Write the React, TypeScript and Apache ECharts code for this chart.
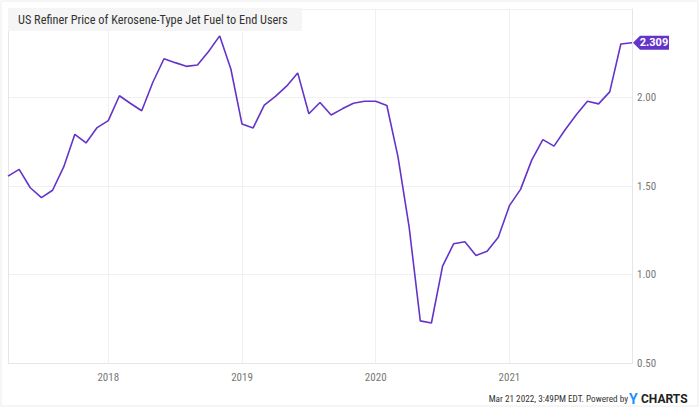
import React, { useEffect, useRef } from "react";
import * as echarts from "echarts";

const months: string[] = [
  "2017-04", "2017-05", "2017-06", "2017-07", "2017-08", "2017-09", "2017-10", "2017-11", "2017-12",
  "2018-01", "2018-02", "2018-03", "2018-04", "2018-05", "2018-06", "2018-07", "2018-08", "2018-09", "2018-10", "2018-11", "2018-12",
  "2019-01", "2019-02", "2019-03", "2019-04", "2019-05", "2019-06", "2019-07", "2019-08", "2019-09", "2019-10", "2019-11", "2019-12",
  "2020-01", "2020-02", "2020-03", "2020-04", "2020-05", "2020-06", "2020-07", "2020-08", "2020-09", "2020-10", "2020-11", "2020-12",
  "2021-01", "2021-02", "2021-03", "2021-04", "2021-05", "2021-06", "2021-07", "2021-08", "2021-09", "2021-10", "2021-11", "2021-12",
];

const prices: number[] = [
  1.556, 1.594, 1.49, 1.434, 1.476, 1.608, 1.792, 1.743, 1.83,
  1.869, 2.01, 1.966, 1.925, 2.086, 2.219, 2.197, 2.176, 2.184, 2.26, 2.348, 2.161,
  1.85, 1.828, 1.957, 2.006, 2.064, 2.139, 1.908, 1.972, 1.901, 1.936, 1.968, 1.979,
  1.979, 1.955, 1.665, 1.268, 0.738, 0.726, 1.047, 1.174, 1.185, 1.108, 1.131, 1.211,
  1.389, 1.481, 1.646, 1.762, 1.725, 1.818, 1.903, 1.979, 1.964, 2.032, 2.302, 2.309,
];

const yTicks = { min: 0.5, max: 2.5, interval: 0.5 };
const lastLabel = "2.309";
const titleText = "US Refiner Price of Kerosene-Type Jet Fuel to End Users";
const footerText = "Mar 21 2022, 3:49PM EDT. Powered by";

const COND = "'Roboto Condensed', 'Liberation Sans Narrow', 'DejaVu Sans Condensed', Roboto, sans-serif";
const PURPLE = "#6434c9";

export default function App() {
  const ref = useRef<HTMLDivElement>(null);
  useEffect(() => {
    if (!ref.current) return;
    const chart = echarts.init(ref.current, undefined, { renderer: "svg" });
    const isJan = (i: number) => months[i].endsWith("-01");
    const last = months.length - 1;
    chart.setOption({
      animation: false,
      backgroundColor: "#ffffff",
      grid: { left: 8, right: 68, top: 9, bottom: 45 },
      xAxis: {
        type: "category",
        data: months,
        boundaryGap: false,
        axisLine: { show: true, lineStyle: { color: "#e6e6e6" } },
        axisTick: { show: false },
        axisLabel: {
          interval: (i: number) => isJan(i),
          formatter: (v: string) => v.slice(0, 4),
          color: "#777",
          fontSize: 11,
          fontFamily: COND,
          margin: 9,
        },
        splitLine: {
          show: true,
          interval: (i: number) => isJan(i),
          lineStyle: { color: "#f0f0f0" },
        },
      },
      yAxis: [
        {
          type: "value",
          position: "right",
          min: yTicks.min,
          max: yTicks.max,
          interval: yTicks.interval,
          axisLine: { show: true, lineStyle: { color: "#e6e6e6" } },
          axisTick: { show: false },
          axisLabel: {
            formatter: (v: number) => (v >= yTicks.max ? "" : v.toFixed(2)),
            color: "#777",
            fontSize: 11,
            fontFamily: COND,
            margin: 5,
            padding: [0, 0, 6, 0],
          },
          splitLine: { show: true, lineStyle: { color: "#f0f0f0" } },
        },
        {
          type: "value",
          position: "left",
          min: yTicks.min,
          max: yTicks.max,
          interval: yTicks.interval,
          axisLine: { show: true, lineStyle: { color: "#e6e6e6" } },
          axisTick: { show: false },
          axisLabel: { show: false },
          splitLine: { show: false },
        },
      ],
      series: [
        {
          type: "line",
          data: prices,
          symbol: "none",
          lineStyle: { color: PURPLE, width: 1.6 },
          itemStyle: { color: PURPLE },
          markPoint: {
            silent: true,
            data: [
              {
                coord: [months[last], prices[last]],
                symbol: "path://M0,7L7,0L36,0L36,14L7,14Z",
                symbolSize: [36, 14],
                symbolOffset: [19, 0],
                symbolKeepAspect: false,
                itemStyle: { color: PURPLE },
                label: {
                  show: true,
                  position: "inside",
                  offset: [3, 0],
                  formatter: lastLabel,
                  color: "#fff",
                  fontWeight: "bold",
                  fontSize: 11,
                  fontFamily: "Roboto, sans-serif",
                },
              },
            ],
          },
        },
      ],
      graphic: [
        {
          type: "rect",
          shape: { x: 1, y: 1, width: 697, height: 405 },
          style: { fill: "none", stroke: "#ececec", lineWidth: 1 },
          silent: true,
          z: 100,
        },
        {
          type: "rect",
          shape: { x: 8, y: 8, width: 294, height: 23 },
          style: { fill: "#f5f5f5" },
          z: 100,
        },
        {
          type: "text",
          x: 18,
          y: 19.5,
          style: {
            text: titleText,
            fill: "#333",
            fontSize: 12.3,
            fontFamily: COND,
            verticalAlign: "middle",
            align: "left",
          },
          z: 101,
        },
        {
          type: "text",
          x: 628,
          y: 398.5,
          style: {
            text: footerText,
            fill: "#333",
            fontSize: 9.2,
            fontFamily: COND,
            verticalAlign: "middle",
            align: "right",
          },
          z: 101,
        },
        {
          type: "text",
          x: 629,
          y: 398.5,
          style: {
            text: "Y",
            fill: "#1e8fff",
            fontSize: 14,
            fontWeight: "bold",
            fontFamily: "Roboto, sans-serif",
            verticalAlign: "middle",
            align: "left",
          },
          z: 101,
        },
        {
          type: "text",
          x: 641,
          y: 398.5,
          style: {
            text: "CHARTS",
            fill: "#222",
            fontSize: 12,
            fontWeight: "bold",
            fontFamily: "Roboto, sans-serif",
            verticalAlign: "middle",
            align: "left",
          },
          z: 101,
        },
      ],
    });
    return () => chart.dispose();
  }, []);
  return (
    <div
      ref={ref}
      style={{ position: "absolute", left: 0, top: 0, width: 700, height: 408 }}
    />
  );
}
